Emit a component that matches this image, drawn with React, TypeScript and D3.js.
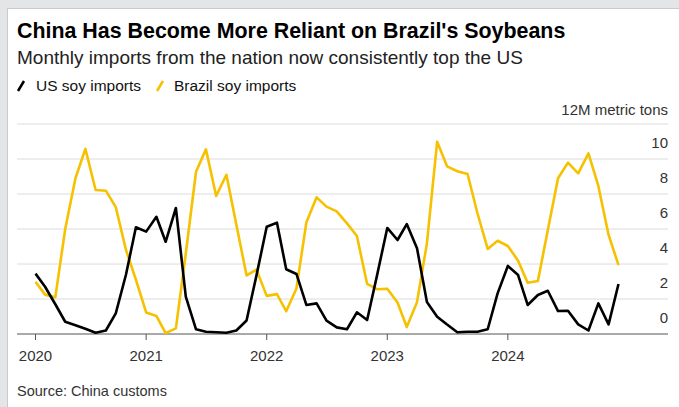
import React from 'react';
import * as d3 from 'd3';

// Monthly data, Feb 2020 .. Dec 2024 (million metric tons)
const months: Date[] = d3.timeMonth.range(new Date(2020, 1, 1), new Date(2025, 0, 1));

const usImports: number[] = [
  3.45, 2.7, 1.7, 0.7, 0.5, 0.3, 0.07, 0.2, 1.18, 3.4, 6.1,
  5.85, 6.7, 5.27, 7.2, 2.13, 0.27, 0.13, 0.1, 0.07, 0.2, 0.77, 3.35, 6.13,
  6.36, 3.7, 3.43, 1.66, 1.75, 0.76, 0.38, 0.27, 1.24, 0.8, 3.35, 6.06,
  5.37, 6.28, 4.9, 1.83, 0.99, 0.54, 0.1, 0.13, 0.13, 0.27, 2.32, 3.89,
  3.37, 1.66, 2.23, 2.47, 1.31, 1.33, 0.55, 0.2, 1.75, 0.55, 2.86,
];

const brazilImports: number[] = [
  2.99, 2.25, 2.1, 6.0, 8.9, 10.58, 8.23, 8.19, 7.25, 4.8, 3.1,
  1.23, 1.03, 0.05, 0.32, 4.6, 9.27, 10.55, 7.89, 9.1, 6.25, 3.35, 3.68, 2.18,
  2.28, 1.3, 2.6, 6.37, 7.81, 7.28, 7.01, 6.32, 5.6, 2.86, 2.56, 2.59,
  1.8, 0.4, 1.82, 5.18, 10.99, 9.58, 9.3, 9.14, 6.9, 4.86, 5.33, 5.03,
  4.19, 2.93, 3.03, 5.94, 8.9, 9.79, 9.18, 10.32, 8.46, 5.66, 3.94,
];

const yTicks: number[] = [0, 2, 4, 6, 8, 10];
const yTopTick = 12;
const yUnitLabel = '12M metric tons';
const xTickDates: Date[] = [
  new Date(2020, 1, 1), new Date(2021, 0, 1), new Date(2022, 0, 1),
  new Date(2023, 0, 1), new Date(2024, 0, 1),
];
const xTickLabels: string[] = ['2020', '2021', '2022', '2023', '2024'];

const title = "China Has Become More Reliant on Brazil's Soybeans";
const subtitle = 'Monthly imports from the nation now consistently top the US';
const legendUS = 'US soy imports';
const legendBrazil = 'Brazil soy imports';
const source = 'Source: China customs';

const W = 679;
const H = 407;
const FONT = "'Liberation Sans', Arial, Helvetica, sans-serif";
const YELLOW = '#f6c100';

export default function App() {
  const x = d3.scaleTime().domain([months[0], months[months.length - 1]]).range([35.5, 618.5]);
  const y = d3.scaleLinear().domain([0, 12]).range([334, 124]);
  const plotLeft = 17;
  const plotRight = 668;

  const lineGen = d3
    .line<number>()
    .x((_, i) => x(months[i]))
    .y((d) => y(d));

  return (
    <div style={{ position: 'absolute', left: 0, top: 0, width: W, height: H }}>
      <svg width={W} height={H} style={{ display: 'block' }} fontFamily={FONT}>
        <rect x={0} y={0} width={W} height={H} fill="#e4e5e7" />
        <rect x={7.5} y={8.5} width={W} height={H} fill="#ffffff" stroke="#c9cacc" strokeWidth={1} />

        <text x={17} y={38} fontSize={21.4} fontWeight="bold" fill="#000">{title}</text>
        <text x={17} y={64} fontSize={19} fill="#222">{subtitle}</text>

        <line x1={18} y1={91} x2={24} y2={81} stroke="#000" strokeWidth={2.5} />
        <text x={36} y={91} fontSize={15.5} fill="#111">{legendUS}</text>
        <line x1={157} y1={91} x2={163} y2={81} stroke={YELLOW} strokeWidth={2.5} />
        <text x={174} y={91} fontSize={15.5} fill="#111">{legendBrazil}</text>

        {[...yTicks, yTopTick].map((t) =>
          t === 0 ? null : (
            <line key={`g${t}`} x1={plotLeft} x2={plotRight} y1={y(t)} y2={y(t)} stroke="#dcdcdc" strokeWidth={1} />
          )
        )}
        {yTicks.map((t) => (
          <text key={`l${t}`} x={plotRight} y={y(t) - 11} fontSize={15} textAnchor="end" fill="#333">
            {t}
          </text>
        ))}
        <text x={plotRight} y={y(yTopTick) - 9} fontSize={15} textAnchor="end" fill="#333">
          {yUnitLabel}
        </text>

        <line x1={plotLeft} x2={plotRight} y1={y(0)} y2={y(0)} stroke="#555" strokeWidth={1} />
        {xTickDates.map((d, i) => (
          <g key={`x${i}`}>
            <line x1={x(d)} x2={x(d)} y1={y(0)} y2={y(0) + 6} stroke="#555" strokeWidth={1} />
            <text x={x(d)} y={361} fontSize={15} textAnchor="middle" fill="#333">
              {xTickLabels[i]}
            </text>
          </g>
        ))}

        <path d={lineGen(brazilImports) || ''} fill="none" stroke={YELLOW} strokeWidth={2.6} strokeLinejoin="round" />
        <path d={lineGen(usImports) || ''} fill="none" stroke="#000" strokeWidth={2.6} strokeLinejoin="round" />

        <text x={17} y={396} fontSize={14.5} fill="#333">{source}</text>
      </svg>
    </div>
  );
}
